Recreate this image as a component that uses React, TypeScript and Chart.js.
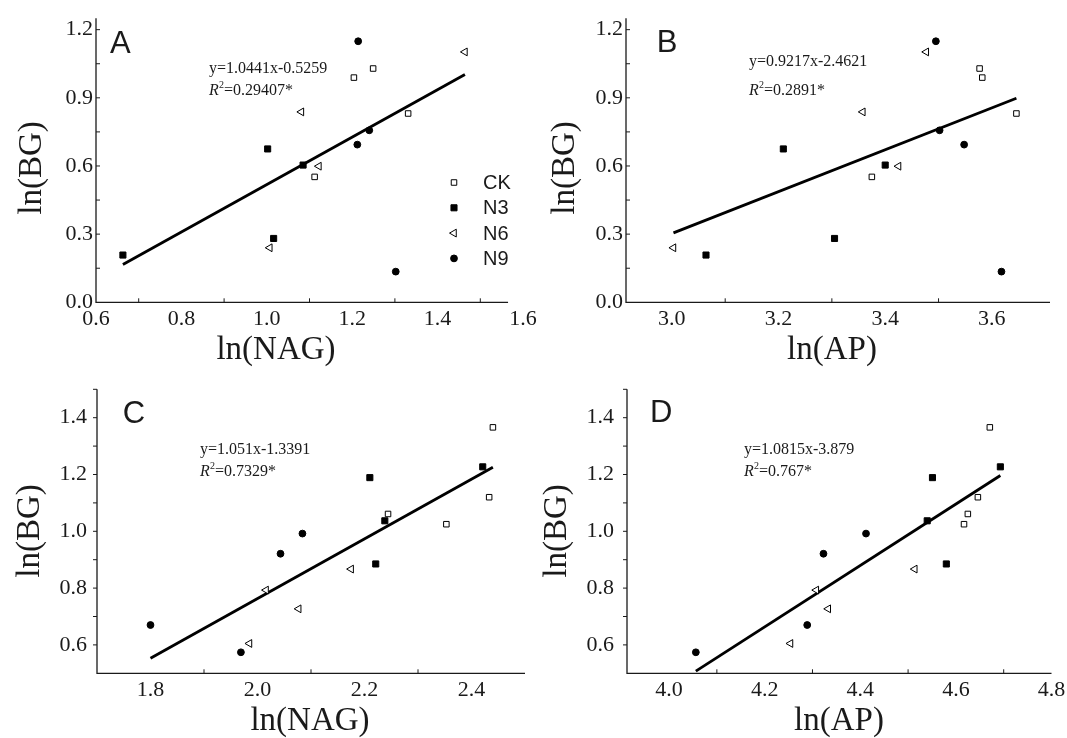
import React, { useEffect, useRef } from "react";
import { Chart, registerables } from "chart.js";

Chart.register(...registerables);

const PAGE_W = 1067;
const PAGE_H = 738;
const SERIF = "'Liberation Serif', 'Times New Roman', serif";
const SANS = "'Liberation Sans', Arial, sans-serif";
const INK = "#1a1a1a";

const GROUPS = ["CK", "N3", "N6", "N9"];

// ---- Top row (A, B): ln(BG)
const BG_TOP_CK = [1.029, 0.989, 0.831, 0.552];
const BG_TOP_N3 = [0.675, 0.604, 0.281, 0.208];
const BG_TOP_N6 = [1.102, 0.838, 0.599, 0.24];
const BG_TOP_N9 = [1.149, 0.757, 0.694, 0.135];

// Panel A: ln(NAG)
const NAG_A_CK = [1.249, 1.204, 1.331, 1.112];
const NAG_A_N3 = [1.002, 1.085, 1.016, 0.663];
const NAG_A_N6 = [1.464, 1.081, 1.122, 1.007];
const NAG_A_N9 = [1.214, 1.24, 1.212, 1.302];

// Panel B: ln(AP)
const AP_B_CK = [3.577, 3.582, 3.646, 3.375];
const AP_B_N3 = [3.209, 3.4, 3.305, 3.064];
const AP_B_N6 = [3.477, 3.358, 3.425, 3.003];
const AP_B_N9 = [3.495, 3.502, 3.548, 3.618];

// ---- Bottom row (C, D): ln(BG)
const BG_BOT_CK = [1.366, 1.12, 1.061, 1.025];
const BG_BOT_N3 = [1.227, 1.189, 1.037, 0.885];
const BG_BOT_N6 = [0.867, 0.793, 0.727, 0.605];
const BG_BOT_N9 = [0.992, 0.921, 0.67, 0.574];

// Panel C: ln(NAG)
const NAG_C_CK = [2.44, 2.433, 2.244, 2.353];
const NAG_C_N3 = [2.421, 2.21, 2.238, 2.221];
const NAG_C_N6 = [2.175, 2.016, 2.077, 1.985];
const NAG_C_N9 = [2.084, 2.043, 1.8, 1.969];

// Panel D: ln(AP)
const AP_D_CK = [4.671, 4.646, 4.625, 4.617];
const AP_D_N3 = [4.693, 4.551, 4.54, 4.58];
const AP_D_N6 = [4.514, 4.308, 4.333, 4.254];
const AP_D_N9 = [4.412, 4.323, 4.289, 4.056];

// Regressions
const SLOPES = [1.0441, 0.9217, 1.051, 1.0815];
const INTERCEPTS = [-0.5259, -2.4621, -1.3391, -3.879];
const EQ_TEXT = ["y=1.0441x-0.5259", "y=0.9217x-2.4621", "y=1.051x-1.3391", "y=1.0815x-3.879"];
const R2_TEXT = ["=0.29407*", "=0.2891*", "=0.7329*", "=0.767*"];
const PANEL_LETTERS = ["A", "B", "C", "D"];
const X_TITLES = ["ln(NAG)", "ln(AP)", "ln(NAG)", "ln(AP)"];
const Y_TITLE = "ln(BG)";

// Tick labels
const X_TICKS_A = [0.6, 0.8, 1.0, 1.2, 1.4, 1.6];
const X_TICKS_B = [3.0, 3.2, 3.4, 3.6];
const X_TICKS_C = [1.8, 2.0, 2.2, 2.4];
const X_TICKS_D = [4.0, 4.2, 4.4, 4.6, 4.8];
const Y_TICKS_TOP = [0.0, 0.3, 0.6, 0.9, 1.2];
const Y_TICKS_BOT = [0.6, 0.8, 1.0, 1.2, 1.4];
// Tick marks
const X_MARKS_A = [0.7, 0.9, 1.1, 1.3, 1.5];
const X_MARKS_B = [3.1, 3.3, 3.5];
const X_MARKS_C = [1.9, 2.1, 2.3];
const X_MARKS_D = [4.1, 4.3, 4.5, 4.7];
const Y_MARKS_TOP = [0.15, 0.3, 0.45, 0.6, 0.75, 0.9, 1.05, 1.2];
const Y_MARKS_BOT = [0.6, 0.7, 0.8, 0.9, 1.0, 1.1, 1.2, 1.3, 1.4, 1.5];

type Style = { pointStyle: string; radius: number; fill: string; rotation: number };
const STYLES: Style[] = [
  { pointStyle: "rect", radius: 3.9, fill: "#ffffff", rotation: 0 },
  { pointStyle: "rect", radius: 4.3, fill: "#000000", rotation: 0 },
  { pointStyle: "triangle", radius: 4.5, fill: "#ffffff", rotation: -90 },
  { pointStyle: "circle", radius: 3.4, fill: "#000000", rotation: 0 },
];

type Panel = {
  idx: number;
  xs: number[][];
  ys: number[][];
  xLabels: number[];
  yLabels: number[];
  xMarks: number[];
  yMarks: number[];
  yTickDir: number;
  yPad: number;
  left: number;
  right: number;
  top: number;
  bottom: number;
  xMin: number;
  xMax: number;
  axisXEnd: number;
  yMin: number;
  yMax: number;
  letter: [number, number];
  eq: [number, number, number];
  xTitle: [number, number];
  yTitle: [number, number];
  legend?: [number, number, number, number];
};

const PANELS: Panel[] = [
  {
    idx: 0,
    xs: [NAG_A_CK, NAG_A_N3, NAG_A_N6, NAG_A_N9],
    ys: [BG_TOP_CK, BG_TOP_N3, BG_TOP_N6, BG_TOP_N9],
    xLabels: X_TICKS_A, yLabels: Y_TICKS_TOP, xMarks: X_MARKS_A, yMarks: Y_MARKS_TOP,
    yTickDir: 1, yPad: 3,
    left: 96, right: 523, top: 18.3, bottom: 302.3,
    xMin: 0.6, xMax: 1.6, axisXEnd: 1.565, yMin: 0, yMax: 1.25,
    letter: [110, 52.7], eq: [209, 72.5, 94.5], xTitle: [276, 359], yTitle: [41, 168],
    legend: [454, 483, 182.5, 25.3],
  },
  {
    idx: 1,
    xs: [AP_B_CK, AP_B_N3, AP_B_N6, AP_B_N9],
    ys: [BG_TOP_CK, BG_TOP_N3, BG_TOP_N6, BG_TOP_N9],
    xLabels: X_TICKS_B, yLabels: Y_TICKS_TOP, xMarks: X_MARKS_B, yMarks: Y_MARKS_TOP,
    yTickDir: 1, yPad: 3,
    left: 626, right: 1050, top: 18.3, bottom: 302.3,
    xMin: 2.914, xMax: 3.709, axisXEnd: 3.709, yMin: 0, yMax: 1.25,
    letter: [656.7, 51.7], eq: [749, 65.5, 94.5], xTitle: [832, 359], yTitle: [574, 168],
  },
  {
    idx: 2,
    xs: [NAG_C_CK, NAG_C_N3, NAG_C_N6, NAG_C_N9],
    ys: [BG_BOT_CK, BG_BOT_N3, BG_BOT_N6, BG_BOT_N9],
    xLabels: X_TICKS_C, yLabels: Y_TICKS_BOT, xMarks: X_MARKS_C, yMarks: Y_MARKS_BOT,
    yTickDir: -1, yPad: 10,
    left: 97, right: 525, top: 389.3, bottom: 673.3,
    xMin: 1.7, xMax: 2.5, axisXEnd: 2.5, yMin: 0.5, yMax: 1.5,
    letter: [122.7, 422.7], eq: [200, 454, 475.5], xTitle: [310, 730], yTitle: [39, 531],
  },
  {
    idx: 3,
    xs: [AP_D_CK, AP_D_N3, AP_D_N6, AP_D_N9],
    ys: [BG_BOT_CK, BG_BOT_N3, BG_BOT_N6, BG_BOT_N9],
    xLabels: X_TICKS_D, yLabels: Y_TICKS_BOT, xMarks: X_MARKS_D, yMarks: Y_MARKS_BOT,
    yTickDir: -1, yPad: 13,
    left: 627, right: 1051.5, top: 389.3, bottom: 673.3,
    xMin: 3.912, xMax: 4.8, axisXEnd: 4.8, yMin: 0.5, yMax: 1.5,
    letter: [650, 421.7], eq: [744, 454, 475.5], xTitle: [839, 730], yTitle: [566, 531],
  },
];

function drawMarker(ctx: CanvasRenderingContext2D, s: Style, x: number, y: number) {
  ctx.save();
  ctx.fillStyle = s.fill;
  ctx.strokeStyle = "#000";
  ctx.lineWidth = 1;
  ctx.beginPath();
  if (s.pointStyle === "rect") {
    const h = s.radius * Math.SQRT1_2;
    ctx.rect(x - h, y - h, 2 * h, 2 * h);
  } else if (s.pointStyle === "circle") {
    ctx.arc(x, y, s.radius, 0, Math.PI * 2);
  } else {
    let rad = (s.rotation * Math.PI) / 180;
    const r = s.radius;
    ctx.moveTo(x + Math.sin(rad) * r, y - Math.cos(rad) * r);
    rad += (2 * Math.PI) / 3;
    ctx.lineTo(x + Math.sin(rad) * r, y - Math.cos(rad) * r);
    rad += (2 * Math.PI) / 3;
    ctx.lineTo(x + Math.sin(rad) * r, y - Math.cos(rad) * r);
    ctx.closePath();
  }
  ctx.fill();
  ctx.stroke();
  ctx.restore();
}

function decorPlugin(p: Panel) {
  return {
    id: "decor" + p.idx,
    afterDraw(chart: any) {
      const ctx: CanvasRenderingContext2D = chart.ctx;
      const xs = chart.scales.x;
      const ys = chart.scales.y;
      const ca = chart.chartArea;
      ctx.save();
      // axes
      ctx.strokeStyle = INK;
      ctx.lineWidth = 1.3;
      ctx.beginPath();
      ctx.moveTo(ca.left, ca.top);
      ctx.lineTo(ca.left, ca.bottom);
      ctx.lineTo(xs.getPixelForValue(p.axisXEnd), ca.bottom);
      ctx.stroke();
      ctx.lineWidth = 1;
      ctx.beginPath();
      for (const v of p.yMarks) {
        const y = ys.getPixelForValue(v);
        ctx.moveTo(ca.left, y);
        ctx.lineTo(ca.left + p.yTickDir * 4, y);
      }
      for (const v of p.xMarks) {
        const x = xs.getPixelForValue(v);
        ctx.moveTo(x, ca.bottom);
        ctx.lineTo(x, ca.bottom - 4);
      }
      ctx.stroke();

      ctx.fillStyle = INK;
      ctx.textBaseline = "alphabetic";
      // panel letter
      ctx.textAlign = "left";
      ctx.font = `31px ${SANS}`;
      ctx.fillText(PANEL_LETTERS[p.idx], p.letter[0], p.letter[1]);
      // equation
      ctx.font = `16px ${SERIF}`;
      ctx.fillText(EQ_TEXT[p.idx], p.eq[0], p.eq[1]);
      let x0 = p.eq[0];
      ctx.font = `italic 16px ${SERIF}`;
      ctx.fillText("R", x0, p.eq[2]);
      x0 += ctx.measureText("R").width + 0.3;
      ctx.font = `10px ${SERIF}`;
      ctx.fillText("2", x0, p.eq[2] - 6.5);
      x0 += ctx.measureText("2").width;
      ctx.font = `16px ${SERIF}`;
      ctx.fillText(R2_TEXT[p.idx], x0, p.eq[2]);
      // x title
      ctx.textAlign = "center";
      ctx.font = `33px ${SERIF}`;
      ctx.fillText(X_TITLES[p.idx], p.xTitle[0], p.xTitle[1]);
      // y title
      ctx.save();
      ctx.translate(p.yTitle[0], p.yTitle[1]);
      ctx.rotate(-Math.PI / 2);
      ctx.fillText(Y_TITLE, 0, 0);
      ctx.restore();
      // legend
      if (p.legend) {
        const [mx, tx, y0, dy] = p.legend;
        ctx.textAlign = "left";
        ctx.textBaseline = "middle";
        ctx.font = `20px ${SANS}`;
        GROUPS.forEach((g, i) => {
          const y = y0 + i * dy;
          drawMarker(ctx, STYLES[i], mx, y);
          ctx.fillStyle = INK;
          ctx.fillText(g, tx, y + 1);
        });
      }
      ctx.restore();
    },
  };
}

function buildConfig(p: Panel): any {
  const allX = p.xs.flat();
  const xLo = Math.min(...allX);
  const xHi = Math.max(...allX);
  const slope = SLOPES[p.idx];
  const icpt = INTERCEPTS[p.idx];
  const datasets: any[] = [
    {
      label: "fit",
      data: [
        { x: xLo, y: slope * xLo + icpt },
        { x: xHi, y: slope * xHi + icpt },
      ],
      showLine: true,
      borderColor: "#000",
      borderWidth: 2.8,
      pointRadius: 0,
      clip: false,
      order: 1,
    },
  ];
  GROUPS.forEach((g, i) => {
    const s = STYLES[i];
    datasets.push({
      label: g,
      data: p.xs[i].map((x, k) => ({ x, y: p.ys[i][k] })),
      showLine: false,
      pointStyle: s.pointStyle,
      pointRadius: s.radius,
      pointRotation: s.rotation,
      pointBackgroundColor: s.fill,
      pointBorderColor: "#000",
      pointBorderWidth: 1,
      clip: false,
      order: 0,
    });
  });
  const tickFont = { family: SERIF, size: 22 };
  return {
    type: "scatter",
    data: { datasets },
    options: {
      responsive: false,
      maintainAspectRatio: false,
      animation: false,
      events: [],
      layout: { padding: { left: 0, top: p.top, right: PAGE_W - p.right, bottom: 0 } },
      plugins: { legend: { display: false }, tooltip: { enabled: false } },
      scales: {
        x: {
          type: "linear",
          position: "bottom",
          min: p.xMin,
          max: p.xMax,
          grid: { display: false, drawTicks: false },
          border: { display: false },
          ticks: {
            autoSkip: false,
            maxRotation: 0,
            minRotation: 0,
            padding: 4,
            color: INK,
            font: tickFont,
            callback: (v: any) => Number(v).toFixed(1),
          },
          afterBuildTicks: (s: any) => {
            s.ticks = p.xLabels.map((v) => ({ value: v }));
          },
          afterFit: (s: any) => {
            s.height = PAGE_H - p.bottom;
            s.paddingLeft = 0;
            s.paddingRight = 0;
          },
        },
        y: {
          type: "linear",
          position: "left",
          min: p.yMin,
          max: p.yMax,
          grid: { display: false, drawTicks: false },
          border: { display: false },
          ticks: {
            autoSkip: false,
            padding: p.yPad,
            color: INK,
            font: tickFont,
            callback: (v: any) => Number(v).toFixed(1),
          },
          afterBuildTicks: (s: any) => {
            s.ticks = p.yLabels.map((v) => ({ value: v }));
          },
          afterFit: (s: any) => {
            s.width = p.left;
            s.paddingTop = 0;
            s.paddingBottom = 0;
          },
        },
      },
    },
    plugins: [decorPlugin(p)],
  };
}

function PanelChart({ panel }: { panel: Panel }) {
  const ref = useRef<HTMLCanvasElement | null>(null);
  useEffect(() => {
    if (!ref.current) return;
    const chart = new Chart(ref.current, buildConfig(panel));
    return () => chart.destroy();
  }, [panel]);
  return (
    <canvas
      ref={ref}
      width={PAGE_W}
      height={PAGE_H}
      style={{ position: "absolute", left: 0, top: 0, width: PAGE_W, height: PAGE_H }}
    />
  );
}

export default function App() {
  return (
    <div
      style={{
        position: "absolute",
        left: 0,
        top: 0,
        width: PAGE_W,
        height: PAGE_H,
        background: "#ffffff",
        overflow: "hidden",
      }}
    >
      {PANELS.map((p) => (
        <PanelChart key={p.idx} panel={p} />
      ))}
    </div>
  );
}
